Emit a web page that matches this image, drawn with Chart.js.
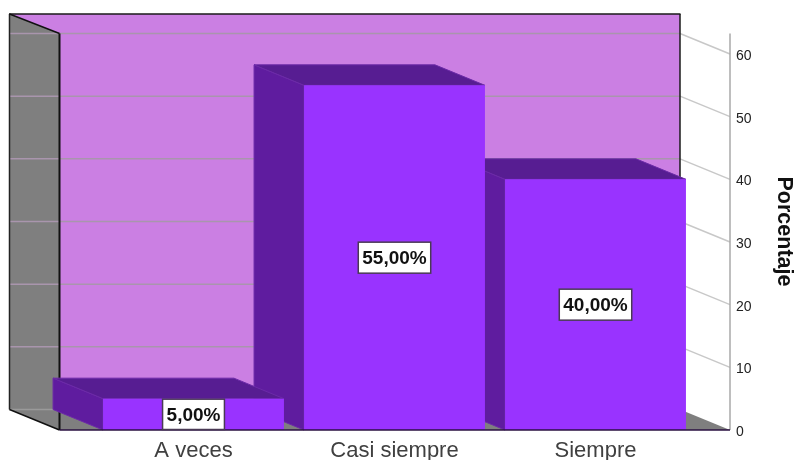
<!DOCTYPE html>
<html>
<head>
<meta charset="utf-8">
<style>
  html, body { margin: 0; padding: 0; background: #fff; }
  #wrap { position: relative; width: 796px; height: 460px; overflow: hidden; }
</style>
<script src="https://cdn.jsdelivr.net/npm/chart.js@4"></script>
</head>
<body>
<div id="wrap"><canvas id="chart" width="796" height="460"></canvas></div>
<script>
const categories = ['A veces', 'Casi siempre', 'Siempre'];
const percentages = [5, 55, 40];
const yTicks = [0, 10, 20, 30, 40, 50, 60];
const yTitle = 'Porcentaje';

const FRONT = '#9933ff';
const SIDE = '#5f1c9f';
const TOP = '#571d92';
const WALL = '#cb7fe3';
const SIDEWALL = '#7f7f7f';
const FLOOR = '#7f7f7f';
const DEPTH_X = 50;
const DEPTH_Y = 20.5;
const WALL_LEFT = 59.5;
const AXIS_X = 730;
const WALL_TOP = 14;

function poly(ctx, pts, fill, stroke, lw) {
  ctx.beginPath();
  pts.forEach((p, i) => i ? ctx.lineTo(p[0], p[1]) : ctx.moveTo(p[0], p[1]));
  ctx.closePath();
  if (fill) { ctx.fillStyle = fill; ctx.fill(); }
  if (stroke) { ctx.strokeStyle = stroke; ctx.lineWidth = lw || 1; ctx.stroke(); }
}
function seg(ctx, x1, y1, x2, y2, color, lw) {
  ctx.beginPath();
  ctx.moveTo(x1, y1);
  ctx.lineTo(x2, y2);
  ctx.strokeStyle = color;
  ctx.lineWidth = lw;
  ctx.stroke();
}

// Box walls, floor, grid and the receding sides of each column
const box3d = {
  id: 'box3d',
  beforeDatasetsDraw(chart) {
    const { ctx, scales: { y } } = chart;
    const y0 = y.getPixelForValue(0);
    const dx = DEPTH_X, dy = DEPTH_Y;
    const backL = WALL_LEFT - dx, backR = AXIS_X - dx, backB = y0 - dy;
    ctx.save();

    poly(ctx, [[backL, WALL_TOP], [backR, WALL_TOP], [backR, backB], [backL, backB]], WALL);
    poly(ctx, [[backL, WALL_TOP], [WALL_LEFT, WALL_TOP + dy - 1], [WALL_LEFT, y0], [backL, backB]], SIDEWALL);
    poly(ctx, [[backL, backB], [backR, backB], [AXIS_X, y0], [WALL_LEFT, y0]], FLOOR);

    yTicks.forEach(v => {
      const py = y.getPixelForValue(v);
      if (v > 0) seg(ctx, AXIS_X - dx, py - dy, AXIS_X, py, '#c8c8c8', 1.5);
      seg(ctx, backL, py - dy, backR, py - dy, v > 0 ? '#a995ad' : '#9a9a9a', 1.5);
    });

    seg(ctx, backL - 0.5, WALL_TOP, backR + 0.5, WALL_TOP, '#1a1a1a', 1.5);
    seg(ctx, backR, WALL_TOP, backR, backB, '#1a1a1a', 1.5);
    seg(ctx, backL, WALL_TOP, backL, backB, '#222', 1.5);
    seg(ctx, backL, WALL_TOP, WALL_LEFT, WALL_TOP + dy - 1, '#111', 1.5);
    seg(ctx, WALL_LEFT, WALL_TOP + dy - 1, WALL_LEFT, y0, '#111', 2);
    seg(ctx, backL, backB, WALL_LEFT, y0, '#111', 1.5);
    seg(ctx, AXIS_X, y.top - dy, AXIS_X, y0, '#a8a8a8', 1.5);

    const bars = chart.getDatasetMeta(0).data;
    for (let i = bars.length - 1; i >= 0; i--) {
      const b = bars[i];
      const l = b.x - b.width / 2, r = b.x + b.width / 2, t = b.y;
      poly(ctx, [[l - dx, t - dy], [l, t], [l, y0], [l - dx, y0 - dy]], SIDE, '#6c2aa8', 1);
      poly(ctx, [[l - dx, t - dy], [r - dx, t - dy], [r, t], [l, t]], TOP, '#6c2aa8', 1);
    }
    ctx.restore();
  },
  afterDatasetsDraw(chart) {
    const { ctx, scales: { y } } = chart;
    const y0 = y.getPixelForValue(0);
    ctx.save();
    seg(ctx, WALL_LEFT, y0, AXIS_X, y0, '#2a1040', 1.5);

    // Value tags centred on each column's front face
    ctx.font = 'bold 19px "Liberation Sans", Arial, sans-serif';
    ctx.textAlign = 'center';
    ctx.textBaseline = 'middle';
    chart.getDatasetMeta(0).data.forEach((b, i) => {
      const text = percentages[i].toFixed(2).replace('.', ',') + '%';
      const w = ctx.measureText(text).width + 8;
      const h = Math.min(31, b.base - b.y - 1);
      const cy = (b.y + b.base) / 2;
      ctx.fillStyle = '#fff';
      ctx.strokeStyle = '#4a3a55';
      ctx.lineWidth = 1.5;
      ctx.fillRect(b.x - w / 2, cy - h / 2, w, h);
      ctx.strokeRect(b.x - w / 2, cy - h / 2, w, h);
      ctx.fillStyle = '#111';
      ctx.fillText(text, b.x, cy + 1);
    });

    // Axis caption reads downwards along the right edge
    ctx.translate(784, 231.5);
    ctx.rotate(Math.PI / 2);
    ctx.font = 'bold 21.5px "Liberation Sans", Arial, sans-serif';
    ctx.fillStyle = '#111';
    ctx.fillText(yTitle, 0, 0);
    ctx.restore();
  }
};

new Chart(document.getElementById('chart'), {
  type: 'bar',
  data: {
    labels: categories,
    datasets: [{
      data: percentages,
      backgroundColor: FRONT,
      borderWidth: 0,
      categoryPercentage: 0.9,
      barPercentage: 1
    }]
  },
  options: {
    responsive: false,
    animation: false,
    layout: { padding: { left: 93, top: 54, right: 0, bottom: 0 } },
    plugins: { legend: { display: false }, tooltip: { enabled: false } },
    scales: {
      x: {
        grid: { display: false, drawTicks: false },
        border: { display: false },
        ticks: {
          padding: 8,
          maxRotation: 0,
          autoSkip: false,
          color: '#404040',
          font: { family: '"Liberation Sans", Arial, sans-serif', size: 22 }
        },
        afterFit(scale) { scale.height = 30; scale.paddingLeft = 0; scale.paddingRight = 0; }
      },
      y: {
        position: 'right',
        min: 0,
        max: 60,
        grid: { display: false, drawTicks: false },
        border: { display: false },
        afterFit(scale) { scale.width = 100; scale.paddingTop = 0; scale.paddingBottom = 0; },
        ticks: {
          stepSize: 10,
          padding: 40,
          labelOffset: 2,
          color: '#222',
          font: { family: '"Liberation Sans", Arial, sans-serif', size: 14 }
        }
      }
    }
  },
  plugins: [box3d]
});
</script>
</body>
</html>
